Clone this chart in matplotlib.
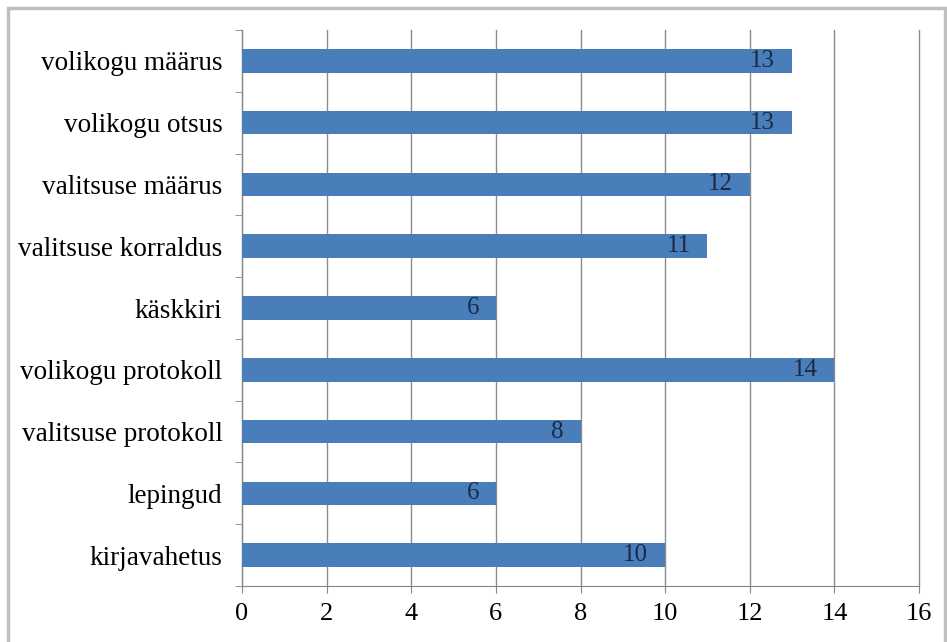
import matplotlib.pyplot as plt
from matplotlib.patches import Rectangle
import numpy as np

# categories top to bottom
categories = ["volikogu määrus", "volikogu otsus", "valitsuse määrus",
              "valitsuse korraldus", "käskkiri", "volikogu protokoll",
              "valitsuse protokoll", "lepingud", "kirjavahetus"]
values = [13, 13, 12, 11, 6, 14, 8, 6, 10]
x_ticks = [0, 2, 4, 6, 8, 10, 12, 14, 16]

plt.rcParams['font.family'] = ['Liberation Serif', 'DejaVu Serif']

fig = plt.figure(figsize=(9.47, 6.42), dpi=100)
ax = fig.add_axes([242 / 947, 1 - 586 / 642, (919 - 242) / 947, (586 - 30) / 642])

# outer frame around the chart
fig.patches.append(Rectangle((8 / 947, -0.01), 937 / 947, 1 - 8 / 642 + 0.01,
                             transform=fig.transFigure, fill=False,
                             edgecolor="#BFBFBF", linewidth=2.5))

n = len(categories)
ypos = np.arange(n)[::-1]
ax.barh(ypos, values, height=0.38, color="#4A7EBB", zorder=3)

for y, v in zip(ypos, values):
    ax.text(v - 0.4, y, str(v), ha="right", va="center", fontsize=18,
            color="#1B2A47", zorder=4)

ax.set_xlim(0, 16)
ax.set_ylim(-0.5, n - 0.5)
ax.set_xticks(x_ticks)
ax.set_xticklabels([str(t) for t in x_ticks], fontsize=19)
ax.set_yticks(ypos)
ax.set_yticklabels(categories, fontsize=19.5)
ax.tick_params(axis="y", length=0, pad=14)
ax.set_yticks(np.arange(-0.5, n, 1), minor=True)
ax.tick_params(axis="y", which="minor", length=5, color="#868686")
ax.tick_params(axis="x", length=5, color="#868686", pad=7)

ax.grid(axis="x", color="#8C8C8C", linewidth=1, zorder=0)
for gl in ax.get_xgridlines():
    gl.set_clip_on(False)
for side in ["top", "right"]:
    ax.spines[side].set_visible(False)
for side in ["left", "bottom"]:
    ax.spines[side].set_color("#868686")

fig.savefig("out.png", dpi=100)
